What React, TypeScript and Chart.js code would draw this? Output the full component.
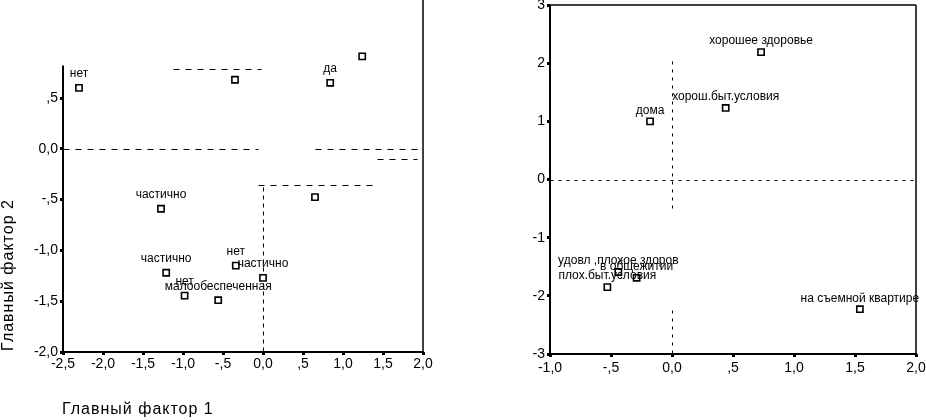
import React, { useEffect, useRef } from "react";
import { Chart, registerables } from "chart.js";

Chart.register(...registerables);

// ---------- Left panel data (Главный фактор 1 / Главный фактор 2) ----------
const leftX = [-2.3, -0.35, 0.84, 1.24, 0.65, -1.275, -1.21, -0.98, -0.56, -0.34, 0.0];
const leftY = [0.6, 0.68, 0.65, 0.91, -0.475, -0.59, -1.22, -1.445, -1.49, -1.15, -1.27];
const leftLabels = ["нет", "", "да", "", "", "частично", "частично", "нет", "малообеспеченная", "нет", "частично"];
const leftXTicks = [-2.5, -2.0, -1.5, -1.0, -0.5, 0.0, 0.5, 1.0, 1.5, 2.0];
const leftXTickLabels = ["-2,5", "-2,0", "-1,5", "-1,0", "-,5", "0,0", ",5", "1,0", "1,5", "2,0"];
const leftYTicks = [-2.0, -1.5, -1.0, -0.5, 0.0, 0.5];
const leftYTickLabels = ["-2,0", "-1,5", "-1,0", "-,5", "0,0", ",5"];
// dashed reference / broken-label segments, in data units: [x1, y1, x2, y2]
const leftRefs: number[][] = [
  [-2.5, 0, -0.06, 0],
  [0.65, 0, 1.94, 0],
  [1.42, -0.1, 1.92, -0.1],
  [-1.12, 0.79, -0.02, 0.79],
  [-0.06, -0.36, 1.375, -0.36],
  [0, -0.38, 0, -2.0],
];

// ---------- Right panel data ----------
const rightX = [0.73, 0.44, -0.18, -0.44, -0.53, -0.29, 1.54];
const rightY = [2.19, 1.23, 1.0, -1.59, -1.85, -1.69, -2.23];
const rightLabels = [
  "хорошее здоровье",
  "хорош.быт.условия",
  "дома",
  "удовл ,плохое здоров",
  "плох.быт.условия",
  "в общежитии",
  "на съемной квартире",
];
const rightXTicks = [-1.0, -0.5, 0.0, 0.5, 1.0, 1.5, 2.0];
const rightXTickLabels = ["-1,0", "-,5", "0,0", ",5", "1,0", "1,5", "2,0"];
const rightYTicks = [-3, -2, -1, 0, 1, 2, 3];
const rightYTickLabels = ["-3", "-2", "-1", "0", "1", "2", "3"];
const rightRefs: number[][] = [
  [-1, 0, 2, 0],
  [0, 2.03, 0, -0.58],
  [0, -2.25, 0, -3],
];

const FONT = "'Liberation Sans', Arial, sans-serif";

type PanelSpec = {
  xs: number[];
  ys: number[];
  labels: string[];
  xMin: number;
  xMax: number;
  yMin: number;
  yMax: number;
  xTicks: number[];
  xTickLabels: string[];
  yTicks: number[];
  yTickLabels: string[];
  refs: number[][];
  hDash: number[];
  vDash: number[];
  yAxisWidth: number;
  xAxisHeight: number;
  padTop: number;
  padRight: number;
  xTickPad: number;
  leftAxisTop: number | null;
  topBorder: boolean;
  labelOffset: number;
  xTitle?: string;
  yTitle?: string;
};

function makeDecor(spec: PanelSpec) {
  return {
    id: "decor",
    beforeDatasetsDraw(chart: any) {
      const ctx = chart.ctx;
      const xs = chart.scales.x;
      const ys = chart.scales.y;
      ctx.save();
      ctx.strokeStyle = "#000";
      ctx.lineWidth = 1;
      for (const [x1, y1, x2, y2] of spec.refs) {
        ctx.setLineDash(x1 === x2 ? spec.vDash : spec.hDash);
        ctx.beginPath();
        ctx.moveTo(Math.round(xs.getPixelForValue(x1)) + 0.5, Math.round(ys.getPixelForValue(y1)) + 0.5);
        ctx.lineTo(Math.round(xs.getPixelForValue(x2)) + 0.5, Math.round(ys.getPixelForValue(y2)) + 0.5);
        ctx.stroke();
      }
      ctx.restore();
    },
    afterDatasetsDraw(chart: any) {
      const ctx = chart.ctx;
      const a = chart.chartArea;
      const ys = chart.scales.y;
      ctx.save();
      ctx.strokeStyle = "#000";
      ctx.setLineDash([]);
      // left axis
      const lt = spec.leftAxisTop === null ? a.top : ys.getPixelForValue(spec.leftAxisTop);
      ctx.lineWidth = 2;
      ctx.beginPath();
      ctx.moveTo(a.left, lt);
      ctx.lineTo(a.left, a.bottom + 1);
      ctx.stroke();
      // bottom axis
      ctx.beginPath();
      ctx.moveTo(a.left - 1, a.bottom);
      ctx.lineTo(a.right + 1, a.bottom);
      ctx.stroke();
      // right border
      ctx.lineWidth = 1.5;
      ctx.beginPath();
      ctx.moveTo(a.right, a.top);
      ctx.lineTo(a.right, a.bottom);
      ctx.stroke();
      if (spec.topBorder) {
        ctx.lineWidth = 1.5;
        ctx.beginPath();
        ctx.moveTo(a.left, a.top);
        ctx.lineTo(a.right, a.top);
        ctx.stroke();
      }
      // point labels
      const meta = chart.getDatasetMeta(0);
      ctx.fillStyle = "#000";
      ctx.font = `12px ${FONT}`;
      ctx.textAlign = "center";
      ctx.textBaseline = "middle";
      meta.data.forEach((el: any, i: number) => {
        const t = spec.labels[i];
        if (t) ctx.fillText(t, el.x, el.y - spec.labelOffset);
      });
      ctx.restore();
    },
    afterDraw(chart: any) {
      const ctx = chart.ctx;
      const a = chart.chartArea;
      ctx.save();
      ctx.fillStyle = "#000";
      ctx.font = `16px ${FONT}`;
      try {
        (ctx as any).letterSpacing = "1px";
      } catch (e) {}
      if (spec.xTitle) {
        ctx.textAlign = "left";
        ctx.textBaseline = "middle";
        ctx.fillText(spec.xTitle, a.left - 1, chart.height - 10);
      }
      if (spec.yTitle) {
        ctx.translate(9, a.bottom - 77);
        ctx.rotate(-Math.PI / 2);
        ctx.textAlign = "center";
        ctx.textBaseline = "middle";
        ctx.fillText(spec.yTitle, 0, 0);
      }
      ctx.restore();
    },
  };
}

function Panel({ spec, width, height, left }: { spec: PanelSpec; width: number; height: number; left: number }) {
  const ref = useRef<HTMLCanvasElement | null>(null);
  useEffect(() => {
    if (!ref.current) return;
    const points = spec.xs.map((x, i) => ({ x, y: spec.ys[i] }));
    const tickFont = { family: FONT, size: 14 };
    const chart = new Chart(ref.current, {
      type: "scatter",
      data: {
        datasets: [
          {
            data: points,
            pointStyle: "rect",
            pointRadius: 4.4,
            pointBorderWidth: 1.6,
            borderColor: "#000",
            backgroundColor: "#fff",
          } as any,
        ],
      },
      options: {
        animation: false,
        responsive: false,
        devicePixelRatio: 1,
        layout: { autoPadding: false, padding: { top: spec.padTop, right: spec.padRight, left: 0, bottom: 0 } },
        plugins: { legend: { display: false }, tooltip: { enabled: false } },
        scales: {
          x: {
            type: "linear",
            min: spec.xMin,
            max: spec.xMax,
            afterBuildTicks: (s: any) => {
              s.ticks = spec.xTicks.map((v) => ({ value: v }));
            },
            afterFit: (s: any) => {
              s.height = spec.xAxisHeight;
              s.paddingLeft = 0;
              s.paddingRight = 0;
            },
            grid: { display: true, drawOnChartArea: false, drawTicks: true, tickLength: 3, tickWidth: 3, color: "#000" },
            border: { display: false },
            ticks: {
              color: "#000",
              font: tickFont,
              padding: spec.xTickPad,
              maxRotation: 0,
              autoSkip: false,
              callback: (v: any) => spec.xTickLabels[spec.xTicks.indexOf(Number(v))] ?? "",
            },
          },
          y: {
            type: "linear",
            min: spec.yMin,
            max: spec.yMax,
            afterBuildTicks: (s: any) => {
              s.ticks = spec.yTicks.map((v) => ({ value: v }));
            },
            afterFit: (s: any) => {
              s.width = spec.yAxisWidth;
              s.paddingTop = 0;
              s.paddingBottom = 0;
            },
            grid: { display: true, drawOnChartArea: false, drawTicks: true, tickLength: 3, tickWidth: 3, color: "#000" },
            border: { display: false },
            ticks: {
              color: "#000",
              font: tickFont,
              padding: 2,
              autoSkip: false,
              callback: (v: any) => spec.yTickLabels[spec.yTicks.indexOf(Number(v))] ?? "",
            },
          },
        },
      },
      plugins: [makeDecor(spec) as any],
    });
    return () => chart.destroy();
  }, [spec]);
  return (
    <canvas
      ref={ref}
      width={width}
      height={height}
      style={{ position: "absolute", left, top: 0, width, height }}
    />
  );
}

const leftSpec: PanelSpec = {
  xs: leftX,
  ys: leftY,
  labels: leftLabels,
  xMin: -2.5,
  xMax: 2.0,
  yMin: -2.0,
  yMax: 1.465,
  xTicks: leftXTicks,
  xTickLabels: leftXTickLabels,
  yTicks: leftYTicks,
  yTickLabels: leftYTickLabels,
  refs: leftRefs,
  hDash: [6, 6],
  vDash: [4, 4],
  yAxisWidth: 63,
  xAxisHeight: 68,
  padTop: 0,
  padRight: 47,
  xTickPad: 1,
  leftAxisTop: 0.82,
  topBorder: false,
  labelOffset: 14,
  xTitle: "Главный фактор 1",
  yTitle: "Главный фактор 2",
};

const rightSpec: PanelSpec = {
  xs: rightX,
  ys: rightY,
  labels: rightLabels,
  xMin: -1.0,
  xMax: 2.0,
  yMin: -3,
  yMax: 3,
  xTicks: rightXTicks,
  xTickLabels: rightXTickLabels,
  yTicks: rightYTicks,
  yTickLabels: rightYTickLabels,
  refs: rightRefs,
  hDash: [3, 5],
  vDash: [3, 5],
  yAxisWidth: 80,
  xAxisHeight: 66,
  padTop: 5,
  padRight: 10,
  xTickPad: 3,
  leftAxisTop: null,
  topBorder: true,
  labelOffset: 11,
};

export default function App() {
  return (
    <div style={{ position: "absolute", left: 0, top: 0, width: 926, height: 420, background: "#fff", overflow: "hidden" }}>
      <Panel spec={leftSpec} width={470} height={420} left={0} />
      <Panel spec={rightSpec} width={456} height={420} left={470} />
    </div>
  );
}
